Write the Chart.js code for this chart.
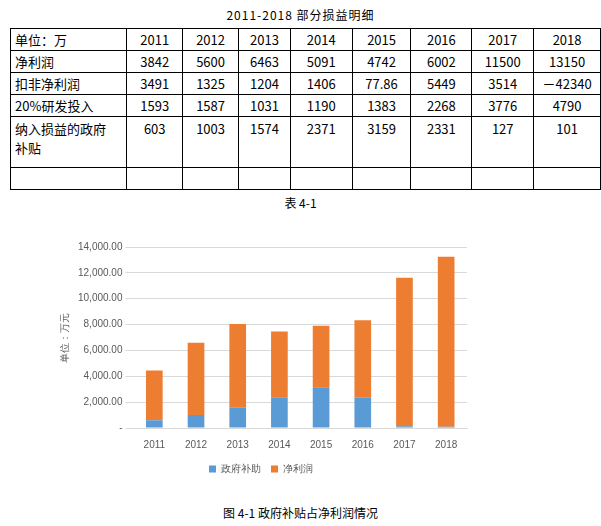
<!DOCTYPE html>
<html><head><meta charset="utf-8">
<script src="https://cdn.jsdelivr.net/npm/chart.js@4.4.0/dist/chart.umd.min.js"></script>
<style>
body{margin:0;width:601px;height:526px;background:#fff;font-family:"Noto Sans CJK SC",sans-serif;position:relative;overflow:hidden}
#title{position:absolute;top:6px;left:0;width:601px;text-align:center;font-size:12px;letter-spacing:1px}
table{position:absolute;top:28px;left:10px;border-collapse:collapse;font-size:13px}
td{border:1px solid #000;height:21px;padding:0 4px;text-align:center}
td:first-child{text-align:left;width:108px}
#cap1{position:absolute;top:194px;left:0;width:601px;text-align:center;font-size:12px}
#wrap{position:absolute;left:55px;top:235px;width:420px;height:249px}
#cap2{position:absolute;top:504px;left:0;width:601px;text-align:center;font-size:12px}
</style></head><body>
<div id="title">2011-2018 部分损益明细</div>
<table id="tbl"></table>
<div id="cap1">表 4-1</div>
<div id="wrap"><canvas id="c"></canvas></div>
<div id="cap2">图 4-1 政府补贴占净利润情况</div>
<script>
var years = ['2011','2012','2013','2014','2015','2016','2017','2018'];
var netProfit = [3842,5600,6463,5091,4742,6002,11500,13150];
var deducted = ['3491','1325','1204','1406','77.86','5449','3514','－42340'];
var rdInput = [1593,1587,1031,1190,1383,2268,3776,4790];
var subsidy = [603,1003,1574,2371,3159,2331,127,101];
var widths = [108,47,47,43,53,50,52,53,58];

var rows = [
  ['单位：万'].concat(years),
  ['净利润'].concat(netProfit),
  ['扣非净利润'].concat(deducted),
  ['20%研发投入'].concat(rdInput),
  ['纳入损益的政府<br>补贴'].concat(subsidy),
  ['','','','','','','','','']
];
var html = '';
rows.forEach(function (r, ri) {
  html += '<tr>';
  r.forEach(function (v, i) {
    var h = ri == 4 ? 'height:48px;vertical-align:top;padding-top:2px;' : '';
    html += '<td style="' + h + 'width:' + widths[i] + 'px">' + v + '</td>';
  });
  html += '</tr>';
});
document.getElementById('tbl').innerHTML = html;

new Chart(document.getElementById('c'), {
  type: 'bar',
  data: {
    labels: years,
    datasets: [
      { label: '政府补助', data: subsidy, backgroundColor: '#5b9bd5' },
      { label: '净利润', data: netProfit, backgroundColor: '#ed7d31' }
    ]
  },
  options: {
    responsive: true,
    maintainAspectRatio: false,
    animation: false,
    layout: { padding: { top: 12, right: 8 } },
    datasets: { bar: { categoryPercentage: 0.8, barPercentage: 0.5 } },
    scales: {
      x: {
        stacked: true,
        grid: { display: false },
        border: { color: '#d9d9d9' },
        ticks: { color: '#595959', font: { size: 10 } }
      },
      y: {
        stacked: true,
        min: 0, max: 14000,
        ticks: {
          stepSize: 2000, color: '#595959', font: { size: 10 },
          callback: function (v) { return v == 0 ? '-' : v.toLocaleString('en-US', { minimumFractionDigits: 2 }); }
        },
        grid: { color: '#d9d9d9' },
        border: { display: false },
        title: { display: true, text: '单位：万元', color: '#595959', font: { size: 10 } }
      }
    },
    plugins: {
      legend: {
        position: 'bottom',
        labels: { boxWidth: 7, boxHeight: 7, color: '#595959', font: { size: 10 } }
      }
    }
  }
});
</script>
</body></html>
